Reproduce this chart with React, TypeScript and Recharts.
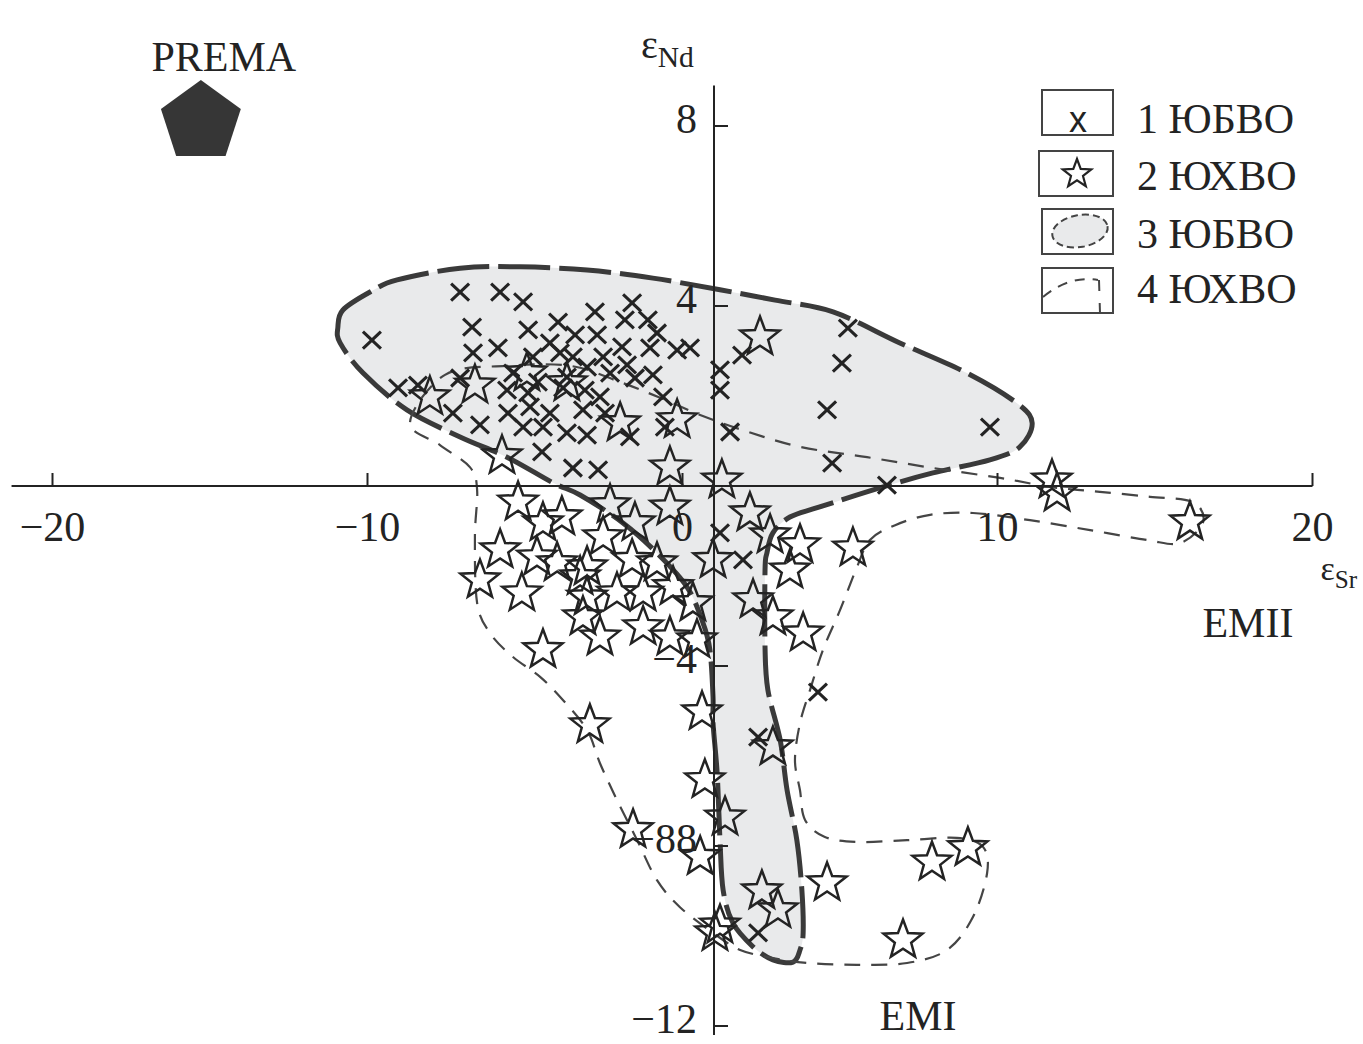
import React from 'react';
import { ScatterChart, Scatter, XAxis, YAxis, Legend } from 'recharts';

const W = 1363;
const H = 1044;

// ---- axis ticks ----
const xTicks = [-20, -10, 0, 10, 20];
const xTickLabels = ['−20', '−10', '0', '10', '20'];
const yTicks = [8, 4, -4, -8, -12];
const yTickLabels = ['8', '4', '−4', '−88', '−12'];
const yAxisAt = 1; // εSr value where the vertical axis is drawn
const xAxisLine = [[-21.3, 0], [20, 0]];
const yAxisLine = [[1, 8.9], [1, -12.2]];

// ---- 1 ЮБВО (x marks): [εSr, εNd] ----
const ubvo: number[][] = [
  [-7.06, 4.31], [-5.79, 4.31], [-5.06, 4.09], [-9.86, 3.24], [-6.68, 3.53], [-4.9, 3.47], [-3.95, 3.64],
  [-2.78, 3.87], [-1.6, 4.07], [-1.83, 3.69], [-1.1, 3.69], [-0.81, 3.4], [-3.41, 3.36], [-2.71, 3.36],
  [-4.21, 3.18], [-6.65, 2.96], [-5.86, 3.07], [-4.75, 2.87], [-3.89, 2.96], [-3.48, 2.87], [-2.52, 2.87],
  [-1.92, 3.09], [-1.03, 3.07], [-0.17, 3.02], [0.24, 3.07], [-9.03, 2.18], [-8.4, 2.24], [-7.06, 2.4],
  [-5.38, 2.51], [-4.59, 2.31], [-3.67, 2.42], [-3.03, 2.64], [-2.3, 2.51], [-1.76, 2.69], [-1.51, 2.4],
  [-0.94, 2.47], [-5.57, 2.13], [-4.9, 2.07], [-3.79, 2.18], [-3.1, 2.13], [-2.62, 1.98], [-7.29, 1.62],
  [-5.54, 1.62], [-4.84, 1.76], [-4.21, 1.62], [-3.16, 1.69], [-2.46, 1.62], [-0.62, 1.98], [-6.43, 1.36],
  [-5.06, 1.31], [-4.43, 1.31], [-3.67, 1.18], [-3.03, 1.13], [-1.67, 1.09], [-0.56, 1.31], [-4.46, 0.76],
  [-3.48, 0.4], [-2.68, 0.36], [1.19, 2.58], [1.19, 2.13], [1.51, 1.2], [5.25, 3.51], [1.89, 2.91],
  [5.06, 2.73], [4.59, 1.69], [9.76, 1.31], [4.75, 0.51], [6.49, 0.02], [1.19, -1.04], [1.92, -1.64],
  [4.3, -4.58], [2.4, -5.58], [2.4, -9.93],
];

// ---- 2 ЮХВО (stars) ----
const uhvo: number[][] = [
  [2.46, 3.31], [-8.02, 1.98], [-6.59, 2.24], [-4.94, 2.51], [-3.67, 2.29], [-1.98, 1.4], [-0.17, 1.47],
  [-5.73, 0.67], [-0.4, 0.42], [1.25, 0.13], [11.73, 0.13], [11.89, -0.16], [16.11, -0.8], [-5.22, -0.36],
  [-4.43, -0.82], [-3.83, -0.69], [-2.3, -0.42], [-1.51, -0.82], [-0.4, -0.47], [2.14, -0.6], [2.78, -1.09],
  [3.73, -1.31], [5.41, -1.38], [-5.79, -1.42], [-4.62, -1.58], [-3.98, -1.71], [-3.03, -1.8], [-2.52, -1.13],
  [-1.6, -1.64], [-0.81, -1.71], [0.97, -1.64], [3.41, -1.87], [-6.43, -2.09], [-5.1, -2.38], [-3.25, -2.02],
  [-3.03, -2.47], [-2.08, -2.38], [-1.25, -2.38], [-0.3, -2.24], [0.33, -2.6], [2.24, -2.53], [2.87, -2.91],
  [3.83, -3.27], [-3.16, -2.91], [-2.62, -3.36], [-1.25, -3.13], [-0.4, -3.36], [0.46, -3.42], [-4.43, -3.64],
  [-2.94, -5.31], [0.62, -5.02], [2.87, -5.8], [0.71, -6.53], [1.35, -7.36], [-1.57, -7.64], [0.56, -8.24],
  [2.52, -9.0], [3.03, -9.42], [4.59, -8.82], [7.92, -8.36], [9.06, -8.04], [7.0, -10.09], [1.19, -9.76],
  [1.03, -9.93],
];

// ---- 3 ЮБВО field outline ----
const ubvoField: number[][] = [
  [-10.94, 3.53], [-10.78, 3.91], [-9.92, 4.31], [-9.06, 4.58], [-7.06, 4.84], [-5.16, 4.87], [-3.03, 4.8],
  [-0.94, 4.62], [1.19, 4.36], [2.94, 4.13], [4.78, 3.87], [6.9, 3.18], [9.03, 2.51], [10.62, 1.84],
  [11.1, 1.4], [10.71, 0.87], [9.76, 0.58], [7.95, 0.29], [6.37, -0.02], [4.33, -0.47], [3.41, -0.69],
  [2.87, -1.04], [2.68, -1.49], [2.62, -1.87], [2.62, -3.58], [2.71, -4.53], [3.1, -5.64], [3.32, -6.76],
  [3.63, -7.87], [3.79, -8.98], [3.83, -9.93], [3.73, -10.31], [3.51, -10.58], [2.87, -10.53], [2.24, -10.24],
  [1.6, -9.71], [1.29, -8.98], [1.19, -7.87], [1.1, -6.38], [0.97, -5.27], [0.97, -4.69], [0.87, -3.64],
  [0.65, -3.04], [0.14, -2.24], [-0.81, -1.49], [-1.89, -0.82], [-3.25, -0.2], [-4.11, 0.07], [-5.57, 0.64],
  [-7.06, 1.09], [-8.75, 1.69], [-10.14, 2.51], [-10.87, 3.18],
];

// ---- 4 ЮХВО field outline ----
const uhvoField: number[][] = [
  [-8.65, 1.42], [-7.54, 2.47], [-5.63, 2.67], [-3.57, 2.67], [-1.98, 2.31], [-0.71, 1.96], [0.56, 1.58],
  [1.92, 1.24], [3.73, 0.87], [5.86, 0.64], [7.95, 0.4], [10.08, 0.18], [11.67, -0.02], [13.25, -0.13],
  [14.84, -0.24], [16.21, -0.36], [16.52, -0.82], [15.79, -1.27], [14.75, -1.2], [12.94, -0.98], [11.03, -0.76],
  [9.22, -0.6], [7.86, -0.64], [6.75, -0.87], [5.95, -1.2], [5.54, -1.8], [5.0, -2.76], [4.46, -3.64],
  [4.05, -4.53], [3.73, -5.27], [3.57, -6.09], [3.73, -6.76], [3.89, -7.42], [4.52, -7.8], [5.54, -7.91],
  [7.13, -7.87], [8.71, -7.82], [9.54, -8.02], [9.67, -8.6], [9.22, -9.58], [8.4, -10.31], [7.13, -10.6],
  [5.54, -10.64], [3.95, -10.6], [2.87, -10.49], [1.83, -10.31], [0.97, -9.93], [-0.08, -9.36], [-0.81, -8.76],
  [-1.44, -7.87], [-2.08, -6.98], [-2.62, -6.16], [-3.03, -5.42], [-3.79, -4.76], [-4.52, -4.24], [-5.38, -3.8],
  [-6.11, -3.27], [-6.52, -2.6], [-6.59, -1.13], [-6.52, -0.09], [-6.75, 0.42], [-7.7, 0.91],
];

// ---- end members & labels ----
const prema = [[-15.29, 8.09]];
const labelText = ['PREMA', 'EMII', 'EMI'];
const labelPos = [[-14.56, 9.22], [17.95, -3.36], [7.48, -12.09]];
const axisTitleMain = ['ε', 'ε'];
const axisTitleSub = ['Nd', 'Sr'];
const axisTitleSize = [40, 34];
const axisTitlePos = [[-1.32, 9.51], [20.25, -2.09]];
const legendLabels = ['1 ЮБВО', '2 ЮХВО', '3 ЮБВО', '4 ЮХВО'];

const toPts = (arr: number[][]) => arr.map(([x, y]) => ({ x, y }));

const FONT = '"Liberation Serif", "Times New Roman", serif';
const INK = '#232323';

function starPath(cx: number, cy: number, R: number, r: number) {
  let d = '';
  for (let i = 0; i < 10; i++) {
    const a = -Math.PI / 2 + (i * Math.PI) / 5;
    const rad = i % 2 === 0 ? R : r;
    d += (i === 0 ? 'M' : 'L') + (cx + rad * Math.cos(a)).toFixed(2) + ',' + (cy + rad * Math.sin(a)).toFixed(2);
  }
  return d + 'Z';
}

function pentagonPath(cx: number, cy: number, R: number) {
  let d = '';
  for (let i = 0; i < 5; i++) {
    const a = -Math.PI / 2 + (i * 2 * Math.PI) / 5;
    d += (i === 0 ? 'M' : 'L') + (cx + R * Math.cos(a)).toFixed(2) + ',' + (cy + R * Math.sin(a)).toFixed(2);
  }
  return d + 'Z';
}

function closedSmooth(pts: { x: number; y: number }[]) {
  const n = pts.length;
  if (!n) return '';
  let d = `M${pts[0].x},${pts[0].y}`;
  for (let i = 0; i < n; i++) {
    const p0 = pts[(i - 1 + n) % n];
    const p1 = pts[i];
    const p2 = pts[(i + 1) % n];
    const p3 = pts[(i + 2) % n];
    const c1x = p1.x + (p2.x - p0.x) / 6;
    const c1y = p1.y + (p2.y - p0.y) / 6;
    const c2x = p2.x - (p3.x - p1.x) / 6;
    const c2y = p2.y - (p3.y - p1.y) / 6;
    d += ` C${c1x.toFixed(2)},${c1y.toFixed(2)} ${c2x.toFixed(2)},${c2y.toFixed(2)} ${p2.x.toFixed(2)},${p2.y.toFixed(2)}`;
  }
  return d + 'Z';
}

const NoShape = () => <g />;

const XMark = (p: any) => {
  const { cx, cy } = p;
  if (cx == null || cy == null) return <g />;
  return (
    <g stroke={INK} strokeWidth={3.1} strokeLinecap="butt">
      <line x1={cx - 9} y1={cy - 8.5} x2={cx + 9} y2={cy + 8.5} />
      <line x1={cx + 9} y1={cy - 8.5} x2={cx - 9} y2={cy + 8.5} />
    </g>
  );
};

const StarMark = (p: any) => {
  const { cx, cy } = p;
  if (cx == null || cy == null) return <g />;
  return <path d={starPath(cx, cy, 20.5, 8.6)} fill="none" stroke={INK} strokeWidth={2.5} strokeLinejoin="miter" />;
};

const PremaMark = (p: any) => <path d={pentagonPath(p.cx, p.cy, 42)} fill="#363636" />;

const XTick = (p: any) => {
  const label = p.payload?.label ?? p.label;
  return (
    <g>
      <line x1={p.cx} y1={p.cy} x2={p.cx} y2={p.cy - 13} stroke={INK} strokeWidth={2} />
      <text x={p.cx} y={p.cy + 55} textAnchor="middle" fontFamily={FONT} fontSize={42} fill={INK}>{label}</text>
    </g>
  );
};

const YTick = (p: any) => {
  const label = p.payload?.label ?? p.label;
  return (
    <g>
      <line x1={p.cx} y1={p.cy} x2={p.cx + 14} y2={p.cy} stroke={INK} strokeWidth={2} />
      <text x={p.cx - 17} y={p.cy + 7} textAnchor="end" fontFamily={FONT} fontSize={42} fill={INK}>{label}</text>
    </g>
  );
};

const LabelMark = (p: any) => {
  const label = p.payload?.label ?? p.label;
  return (
    <text x={p.cx} y={p.cy} textAnchor="middle" fontFamily={FONT} fontSize={42} fill={INK}>{label}</text>
  );
};

const TitleMark = (p: any) => {
  const main = p.payload?.main ?? p.main;
  const sub = p.payload?.sub ?? p.sub;
  const size = p.payload?.size ?? p.size ?? 40;
  return (
    <text x={p.cx} y={p.cy} textAnchor="start" fontFamily={FONT} fontSize={size} fill={INK}>
      {main}
      <tspan fontSize={size * 0.74} dy={size * 0.22}>{sub}</tspan>
    </text>
  );
};

function LegendBox() {
  const boxY = [10, 71, 129, 188];
  const textY = [53, 110, 168, 223];
  return (
    <svg width={333} height={250} style={{ display: 'block' }}>
      {boxY.map((y, i) => (
        <rect key={i} x={i === 1 ? 9 : 12} y={y} width={i === 1 ? 74 : 71} height={45} fill="#fff" stroke="#444" strokeWidth={2} />
      ))}
      <text x={48} y={52} textAnchor="middle" fontFamily='"Liberation Sans", Arial, sans-serif' fontSize={36} fill={INK}>x</text>
      <path d={starPath(47, 94, 15, 6.3)} fill="none" stroke={INK} strokeWidth={2.2} />
      <ellipse cx={50} cy={151} rx={28} ry={16} transform="rotate(-10 50 151)" fill="#e9eaeb" stroke="#444" strokeWidth={2} strokeDasharray="7 4" />
      <path d="M13,217 Q40,195 68,200" fill="none" stroke="#444" strokeWidth={2} strokeDasharray="10 8" />
      <path d="M69,200 L70,233" fill="none" stroke="#444" strokeWidth={2} strokeDasharray="11 12" />
      {legendLabels.map((t, i) => (
        <text key={i} x={107} y={textY[i]} fontFamily={FONT} fontSize={42} fill={INK}>{t}</text>
      ))}
    </svg>
  );
}

export default function App() {
  const xTickData = xTicks.map((v, i) => ({ x: v, y: 0, label: xTickLabels[i] }));
  const yTickData = yTicks.map((v, i) => ({ x: yAxisAt, y: v, label: yTickLabels[i] }));
  const labelData = labelText.map((t, i) => ({ x: labelPos[i][0], y: labelPos[i][1], label: t }));
  const titleData = axisTitleMain.map((m, i) => ({
    x: axisTitlePos[i][0], y: axisTitlePos[i][1], main: m, sub: axisTitleSub[i], size: axisTitleSize[i],
  }));

  return (
    <div style={{ position: 'absolute', left: 0, top: 0, width: W, height: H, background: '#fff' }}>
      <ScatterChart width={W} height={H} margin={{ top: 36, right: 19, bottom: 4.5, left: 5.25 }}>
        <XAxis type="number" dataKey="x" domain={[-21.5, 21]} hide />
        <YAxis type="number" dataKey="y" domain={[-12.3, 10]} hide />
        <Legend
          layout="horizontal"
          verticalAlign="middle"
          align="center"
          wrapperStyle={{ left: 1030, top: 80, width: 333, height: 250 }}
          content={() => <LegendBox />}
        />
        <Scatter
          name="3 ЮБВО"
          data={toPts(ubvoField)}
          isAnimationActive={false}
          shape={NoShape}
          lineType="joint"
          line={(p: any) => (
            <path d={closedSmooth(p.points)} fill="#e9eaeb" stroke="#3a3a3a" strokeWidth={5} strokeDasharray="52 9" />
          )}
        />
        <Scatter
          name="4 ЮХВО"
          data={toPts(uhvoField)}
          isAnimationActive={false}
          shape={NoShape}
          lineType="joint"
          line={(p: any) => (
            <path d={closedSmooth(p.points)} fill="none" stroke="#454545" strokeWidth={2.2} strokeDasharray="16 11" />
          )}
        />
        <Scatter
          data={toPts(xAxisLine)}
          isAnimationActive={false}
          shape={NoShape}
          lineType="joint"
          line={{ stroke: INK, strokeWidth: 2 }}
        />
        <Scatter
          data={toPts(yAxisLine)}
          isAnimationActive={false}
          shape={NoShape}
          lineType="joint"
          line={{ stroke: INK, strokeWidth: 2 }}
        />
        <Scatter data={xTickData} isAnimationActive={false} shape={XTick} />
        <Scatter data={yTickData} isAnimationActive={false} shape={YTick} />
        <Scatter name="2 ЮХВО" data={toPts(uhvo)} isAnimationActive={false} shape={StarMark} />
        <Scatter name="1 ЮБВО" data={toPts(ubvo)} isAnimationActive={false} shape={XMark} />
        <Scatter name="PREMA" data={toPts(prema)} isAnimationActive={false} shape={PremaMark} />
        <Scatter data={labelData} isAnimationActive={false} shape={LabelMark} />
        <Scatter data={titleData} isAnimationActive={false} shape={TitleMark} />
      </ScatterChart>
    </div>
  );
}
